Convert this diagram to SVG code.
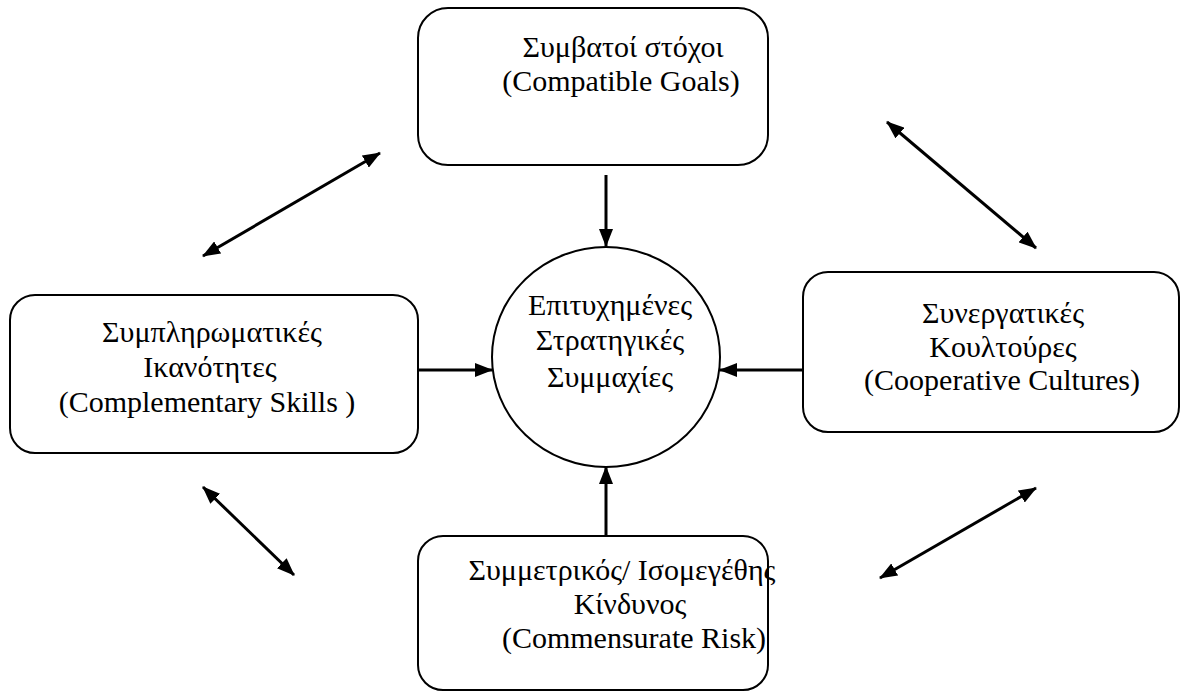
<svg xmlns="http://www.w3.org/2000/svg" width="1180" height="692" viewBox="0 0 1180 692">
<style>
.box{fill:#fff;stroke:#000;stroke-width:2}
.t{font-size:30px;fill:#000;text-anchor:middle}
.c{stroke:#000;stroke-width:3;fill:none}
</style>
<defs>
<marker id="ah" viewBox="0 0 18 14" refX="17" refY="7" markerWidth="18" markerHeight="14" markerUnits="userSpaceOnUse" orient="auto-start-reverse">
<path d="M0,0 L18,7 L0,14 z" fill="#000"/>
</marker>
</defs>
<rect width="1180" height="692" fill="#fff"/>
<g id="connectors">
<line class="c" x1="606" y1="175" x2="606" y2="246" marker-end="url(#ah)"/>
<line class="c" x1="606" y1="536" x2="606" y2="467" marker-end="url(#ah)"/>
<line class="c" x1="418" y1="370" x2="492" y2="370" marker-end="url(#ah)"/>
<line class="c" x1="803" y1="370" x2="720" y2="370" marker-end="url(#ah)"/>
<line class="c" x1="203" y1="256" x2="380" y2="153" marker-start="url(#ah)" marker-end="url(#ah)"/>
<line class="c" x1="887" y1="122" x2="1036" y2="248" marker-start="url(#ah)" marker-end="url(#ah)"/>
<line class="c" x1="203" y1="487" x2="294" y2="575" marker-start="url(#ah)" marker-end="url(#ah)"/>
<line class="c" x1="1036" y1="488" x2="880" y2="578" marker-start="url(#ah)" marker-end="url(#ah)"/>
</g>
<g font-family="'Liberation Serif', 'Times New Roman', 'DejaVu Serif', serif">
<g id="goals">
<rect class="box" x="418" y="8" width="350" height="157" rx="30"/>
<text class="t" x="623" y="57">Συμβατοί στόχοι</text>
<text class="t" x="621" y="91">(Compatible Goals)</text>
</g>
<g id="skills">
<rect class="box" x="10" y="295" width="408" height="158" rx="25"/>
<text class="t" x="212" y="342">Συμπληρωματικές</text>
<text class="t" x="210" y="377">Ικανότητες</text>
<text class="t" x="207" y="412">(Complementary Skills )</text>
</g>
<g id="cultures">
<rect class="box" x="803" y="272" width="376" height="160" rx="25"/>
<text class="t" x="1003" y="323">Συνεργατικές</text>
<text class="t" x="1003" y="357">Κουλτούρες</text>
<text class="t" x="1002" y="390">(Cooperative Cultures)</text>
</g>
<g id="risk">
<rect class="box" x="418" y="536" width="350" height="154" rx="25"/>
<text class="t" x="622" y="580">Συμμετρικός/ Ισομεγέθης</text>
<text class="t" x="630" y="614">Κίνδυνος</text>
<text class="t" x="634" y="648">(Commensurate Risk)</text>
</g>
<g id="center">
<ellipse class="box" cx="606" cy="357" rx="114" ry="110"/>
<text class="t" x="610" y="315">Επιτυχημένες</text>
<text class="t" x="610" y="350">Στρατηγικές</text>
<text class="t" x="610" y="387">Συμμαχίες</text>
</g>
</g>
</svg>
